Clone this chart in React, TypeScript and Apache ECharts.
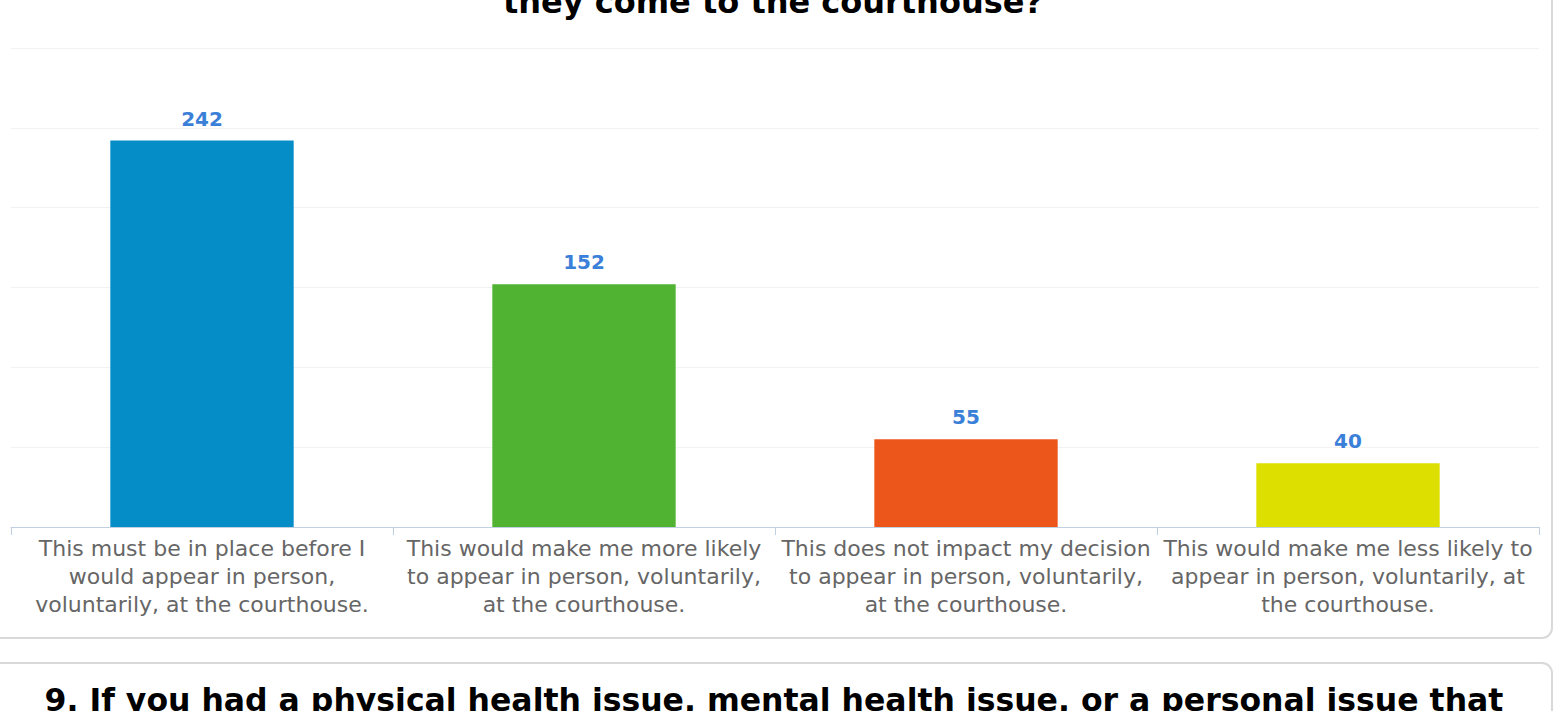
import React, { useEffect, useRef } from "react";
import * as echarts from "echarts";

const categories = [
  "This must be in place before I\nwould appear in person,\nvoluntarily, at the courthouse.",
  "This would make me more likely\nto appear in person, voluntarily,\nat the courthouse.",
  "This does not impact my decision\nto appear in person, voluntarily,\nat the courthouse.",
  "This would make me less likely to\nappear in person, voluntarily, at\nthe courthouse.",
];
const values = [242, 152, 55, 40];
const colors = ["#058DC7", "#50B432", "#ED561B", "#DDDF00"];
const titleTail = "they come to the courthouse?";
const nextQuestion = "9. If you had a physical health issue, mental health issue, or a personal issue that";

const FONT = "'DejaVu Sans', sans-serif";

export default function App() {
  const ref = useRef<HTMLDivElement>(null);
  useEffect(() => {
    const chart = echarts.init(ref.current!, undefined, { renderer: "svg" });
    chart.setOption({
      animation: false,
      backgroundColor: "#ffffff",
      graphic: [
        {
          type: "rect",
          z: -10,
          shape: { x: -20, y: -60, width: 1572, height: 698, r: 10 },
          style: { fill: "#ffffff", stroke: "#d9d9d9", lineWidth: 2 },
        },
        {
          type: "rect",
          z: -10,
          shape: { x: -20, y: 663, width: 1572, height: 120, r: 10 },
          style: { fill: "#ffffff", stroke: "#d9d9d9", lineWidth: 2 },
        },
        {
          type: "text",
          x: 773,
          y: 18,
          style: {
            text: titleTail,
            font: `bold 32px ${FONT}`,
            fill: "#000000",
            align: "center",
            verticalAlign: "bottom",
          },
        },
        {
          type: "text",
          x: 774,
          y: 716,
          style: {
            text: nextQuestion,
            font: `bold 31.5px ${FONT}`,
            fill: "#000000",
            align: "center",
            verticalAlign: "bottom",
          },
        },
      ],
      grid: { left: 11, right: 16, top: 48, bottom: 184, containLabel: false },
      xAxis: {
        type: "category",
        data: categories,
        axisLine: { lineStyle: { color: "#c0d0e0", width: 1 } },
        axisTick: { show: true, length: 8, lineStyle: { color: "#c0d0e0" } },
        axisLabel: {
          interval: 0,
          margin: 7,
          color: "#666666",
          fontSize: 22,
          lineHeight: 28,
          fontFamily: FONT,
        },
      },
      yAxis: {
        type: "value",
        min: 0,
        max: 300,
        interval: 50,
        axisLabel: { show: false },
        axisLine: { show: false },
        axisTick: { show: false },
        splitLine: { lineStyle: { color: "#f2f2f2", width: 1 } },
      },
      series: [
        {
          type: "bar",
          barWidth: "48%",
          data: values.map((v, i) => ({ value: v, itemStyle: { color: colors[i] } })),
          label: {
            show: true,
            position: "top",
            distance: 12,
            color: "#3a80d8",
            fontSize: 20,
            fontWeight: "bold",
            fontFamily: FONT,
          },
        },
      ],
    });
    return () => chart.dispose();
  }, []);
  return (
    <div
      ref={ref}
      style={{ position: "absolute", left: 0, top: 0, width: 1555, height: 711 }}
    />
  );
}
